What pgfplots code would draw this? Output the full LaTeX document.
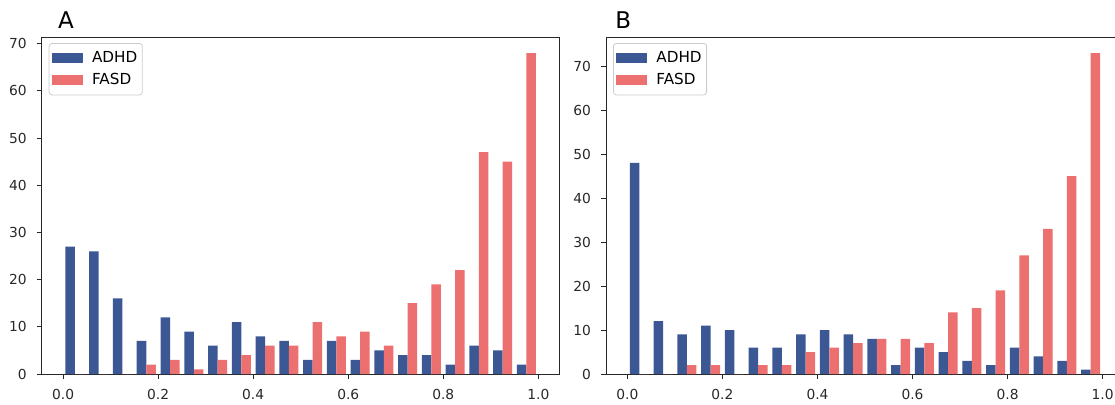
\documentclass[border=0pt]{standalone}
\usepackage{fontspec}
\setmainfont{DejaVu Sans}
\usepackage{pgfplots}
\pgfplotsset{compat=1.18}
\usepackage{pgfplotstable}

\definecolor{adhd}{RGB}{60,88,148}
\definecolor{fasd}{RGB}{236,112,112}
\definecolor{frame}{RGB}{40,40,40}

% bin left edge, counts per group
\pgfplotstableread{
lo   adhd fasd
0.00 27 0
0.05 26 0
0.10 16 0
0.15 7  2
0.20 12 3
0.25 9  1
0.30 6  3
0.35 11 4
0.40 8  6
0.45 7  6
0.50 3  11
0.55 7  8
0.60 3  9
0.65 5  6
0.70 4  15
0.75 4  19
0.80 2  22
0.85 6  47
0.90 5  45
0.95 2  68
}\histA

\pgfplotstableread{
lo   adhd fasd
0.00 48 0
0.05 12 0
0.10 9  2
0.15 11 2
0.20 10 0
0.25 6  2
0.30 6  2
0.35 9  5
0.40 10 6
0.45 9  7
0.50 8  8
0.55 2  8
0.60 6  7
0.65 5  14
0.70 3  15
0.75 2  19
0.80 6  27
0.85 4  33
0.90 3  45
0.95 1  73
}\histB

\pgfplotsset{
  hist/.style={
    scale only axis, width=259pt, height=168.5pt,
    clip mode=individual,
    xmin=-0.045, xmax=1.045, ymin=0,
    xtick={0,0.2,0.4,0.6,0.8,1},
    ytick={0,10,20,30,40,50,60,70},
    x tick label style={/pgf/number format/.cd, fixed, fixed zerofill, precision=1, /tikz/.cd},
    /pgf/number format/assume math mode=true,
    tick align=outside, tick pos=left, major tick length=2.5pt,
    tick style={frame, line width=0.4pt},
    axis line style={frame, line width=0.5pt},
    tick label style={font=\fontsize{6.9}{8}\selectfont, text=frame},
    xticklabel style={yshift=-1.5pt},
    yticklabel style={xshift=-1.5pt},
    legend image code/.code={
      \fill[##1, sharp corners] (0pt,-2.5pt) rectangle (15.5pt,2.5pt);
      \path (0pt,-4.5pt) (19pt,4.5pt);
    },
    legend style={at={(0,1)}, anchor=north west, xshift=3.5pt, yshift=-3pt,
      font=\fontsize{7.6}{9}\selectfont, draw=black!20, rounded corners=1.5pt,
      fill=white, inner xsep=1.5pt, inner ysep=2.8pt, row sep=2pt,
      nodes={inner sep=1pt}},
    legend cell align=left,
  },
}

\begin{document}
\begin{tikzpicture}
\useasboundingbox (0,0) rectangle (557.5pt,202pt);
\clip (0,0) rectangle (557.5pt,202pt);

\begin{axis}[hist, at={(20.85pt,15pt)}, anchor=south west, ymax=71.4]
\addplot[ybar, bar shift=0pt, bar width=0.02, fill=adhd, draw=none]
  table[x expr=\thisrow{lo}+0.015, y=adhd]{\histA};
\addplot[ybar, bar shift=0pt, bar width=0.02, fill=fasd, draw=none]
  table[x expr=\thisrow{lo}+0.035, y=fasd]{\histA};
\legend{ADHD, FASD}
\node[anchor=base west, inner sep=0, font=\fontsize{11.5}{13}\selectfont, xshift=8pt, yshift=4.5pt]
  at (rel axis cs:0,1) {A};
\end{axis}

\begin{axis}[hist, at={(303pt,15pt)}, anchor=south west, ymax=76.65]
\addplot[ybar, bar shift=0pt, bar width=0.02, fill=adhd, draw=none]
  table[x expr=\thisrow{lo}+0.015, y=adhd]{\histB};
\addplot[ybar, bar shift=0pt, bar width=0.02, fill=fasd, draw=none]
  table[x expr=\thisrow{lo}+0.035, y=fasd]{\histB};
\legend{ADHD, FASD}
\node[anchor=base west, inner sep=0, font=\fontsize{11.5}{13}\selectfont, xshift=4.5pt, yshift=4.5pt]
  at (rel axis cs:0,1) {B};
\end{axis}
\end{tikzpicture}
\end{document}
